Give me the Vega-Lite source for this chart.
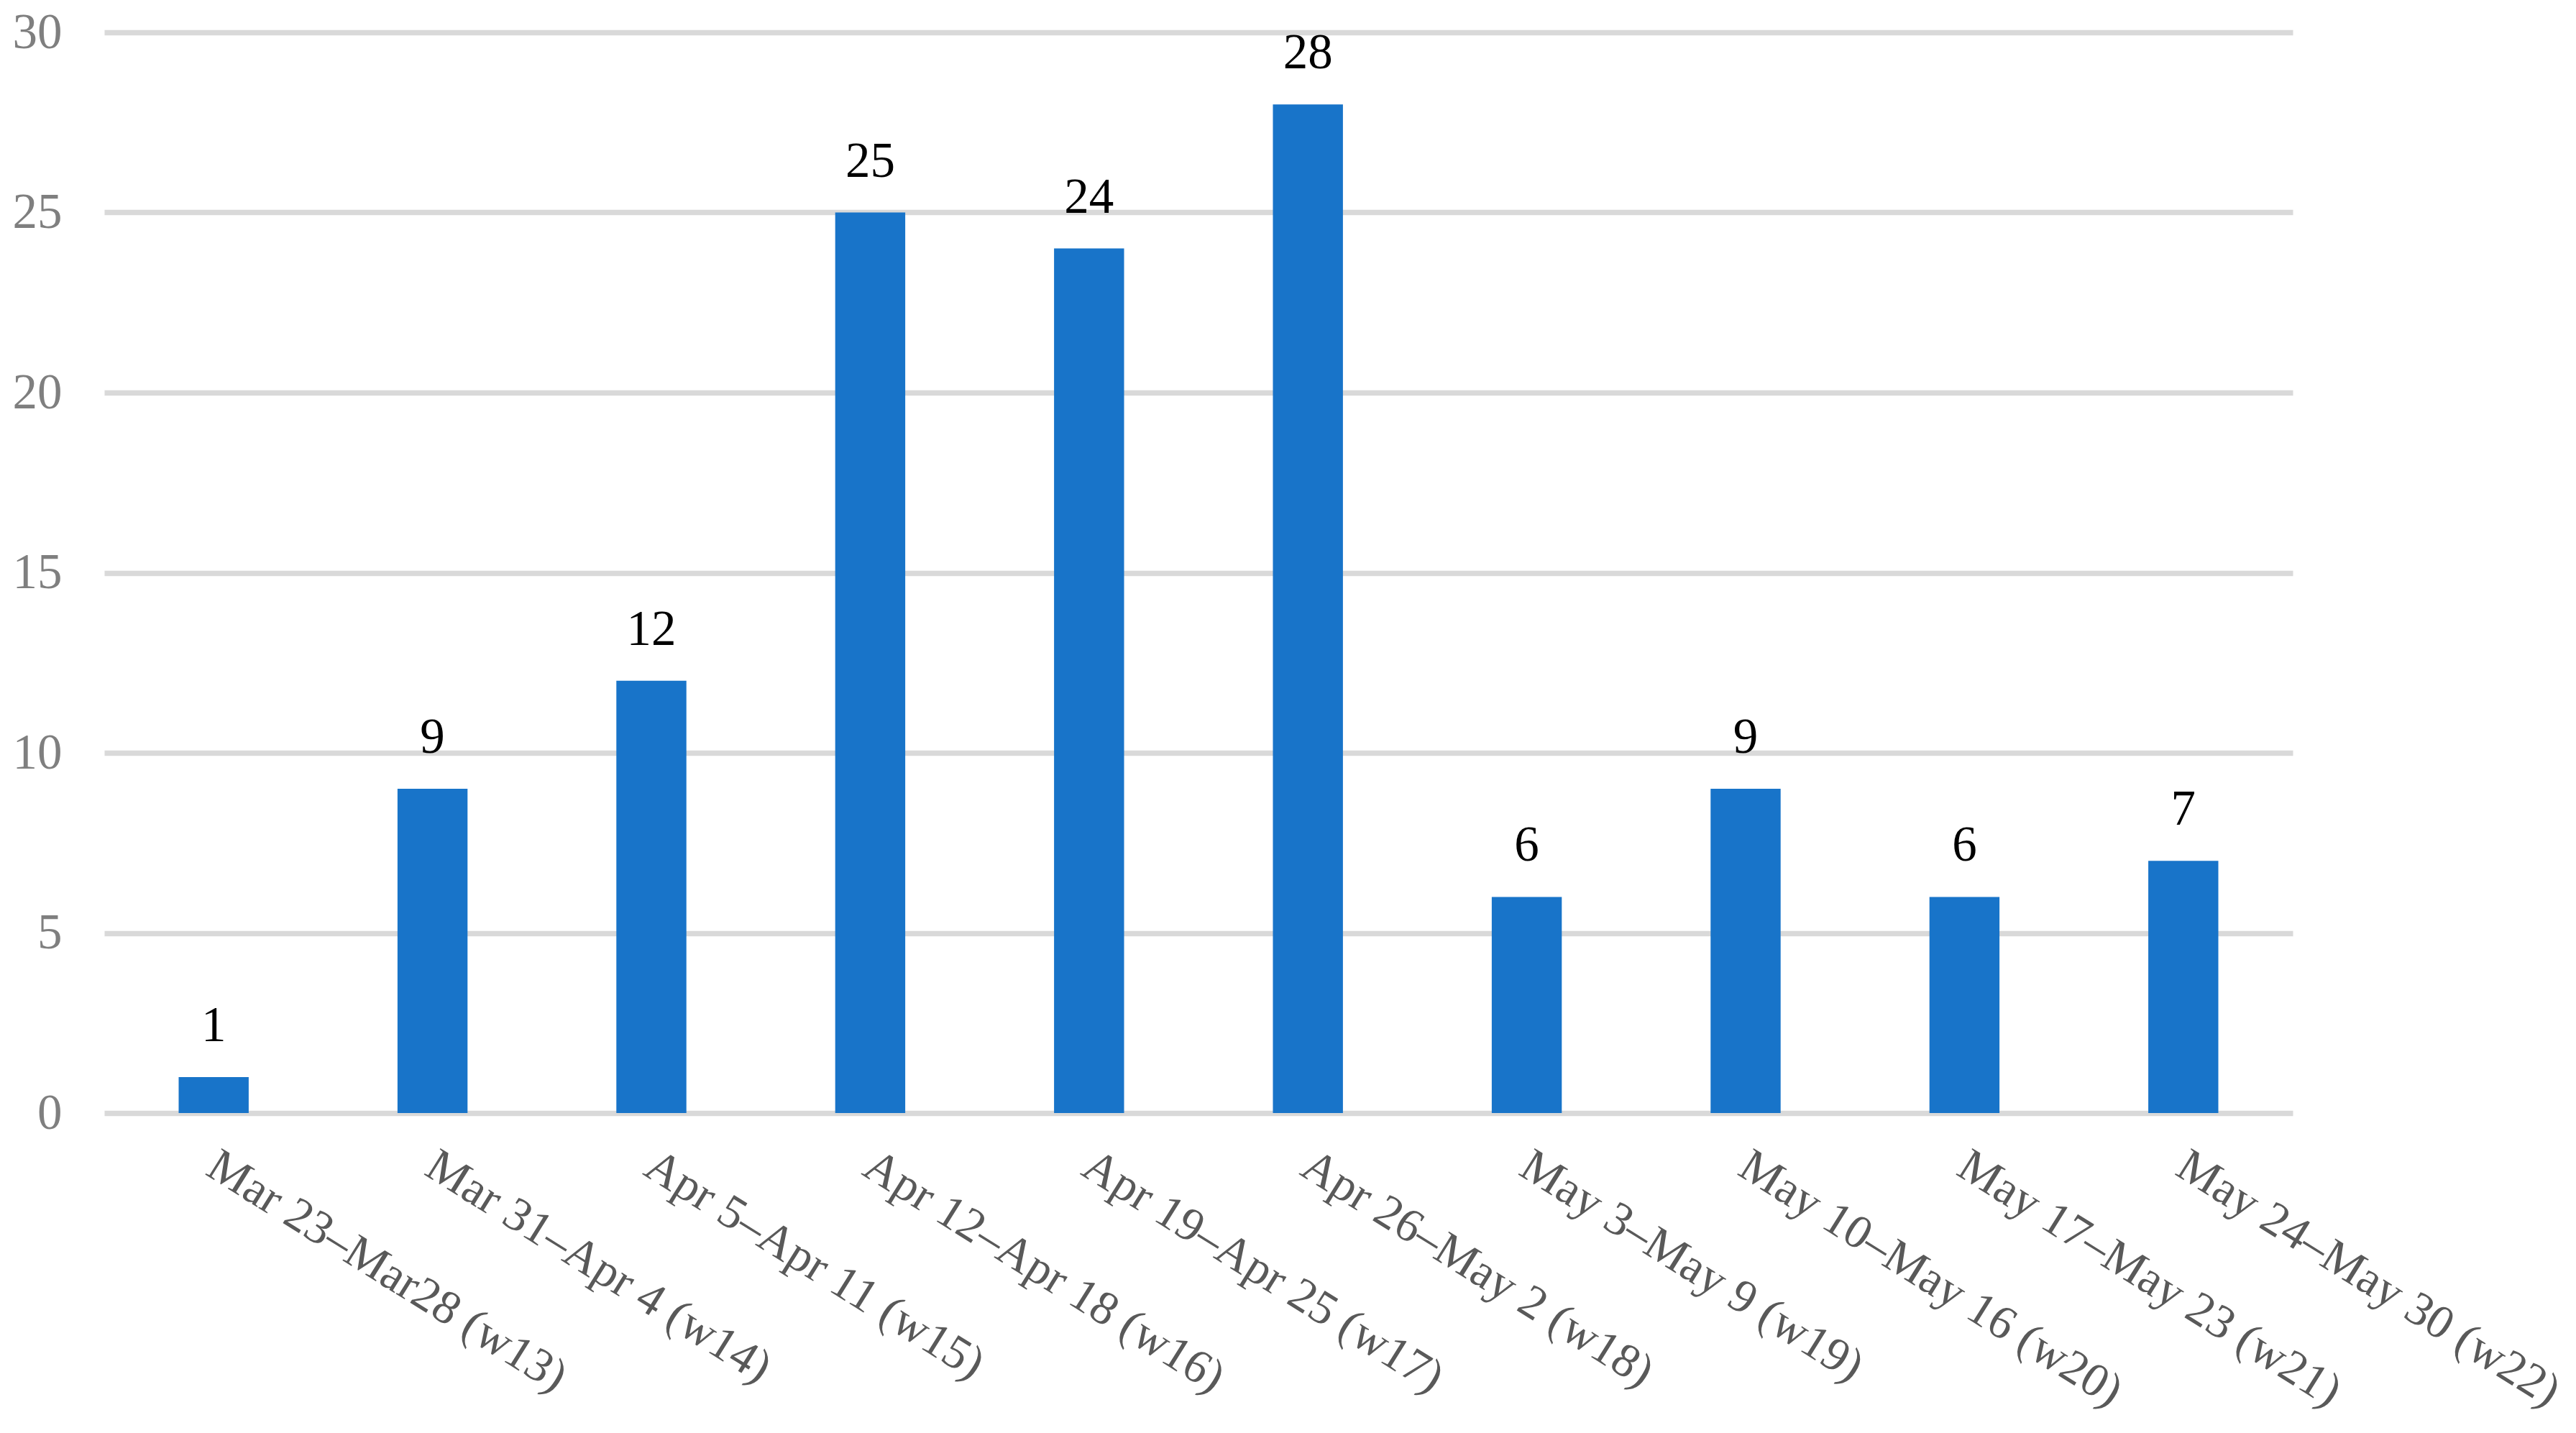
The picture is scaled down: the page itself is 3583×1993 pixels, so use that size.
{
  "$schema": "https://vega.github.io/schema/vega-lite/v6.json",
  "autosize": "none",
  "width": 3044,
  "height": 1503,
  "padding": {"left": 145, "top": 45, "right": 394, "bottom": 445},
  "background": "#ffffff",
  "config": {
    "view": {"stroke": null},
    "font": "Liberation Serif"
  },
  "data": {
    "values": [
      {"week": "Mar 23–Mar28 (w13)", "count": 1},
      {"week": "Mar 31–Apr 4 (w14)", "count": 9},
      {"week": "Apr 5–Apr 11 (w15)", "count": 12},
      {"week": "Apr 12–Apr 18 (w16)", "count": 25},
      {"week": "Apr 19–Apr 25 (w17)", "count": 24},
      {"week": "Apr 26–May 2 (w18)", "count": 28},
      {"week": "May 3–May 9 (w19)", "count": 6},
      {"week": "May 10–May 16 (w20)", "count": 9},
      {"week": "May 17–May 23 (w21)", "count": 6},
      {"week": "May 24–May 30 (w22)", "count": 7}
    ]
  },
  "encoding": {
    "x": {
      "field": "week",
      "type": "nominal",
      "sort": null,
      "scale": {"paddingInner": 0.68, "paddingOuter": 0.34},
      "axis": {
        "title": null,
        "domain": false,
        "ticks": false,
        "labelAngle": 32,
        "labelAlign": "left",
        "labelBaseline": "top",
        "labelPadding": 40,
        "labelOffset": 14,
        "labelFont": "Liberation Serif",
        "labelFontSize": 66,
        "labelColor": "#595959",
        "labelOverlap": false,
        "labelBound": false,
        "labelLimit": 2000
      }
    },
    "y": {
      "field": "count",
      "type": "quantitative",
      "scale": {"domain": [0, 30], "nice": false},
      "axis": {
        "title": null,
        "values": [0, 5, 10, 15, 20, 25, 30],
        "domain": false,
        "ticks": false,
        "grid": true,
        "gridColor": "#d9d9d9",
        "gridWidth": 7.5,
        "labelPadding": 59,
        "labelFont": "Liberation Serif",
        "labelFontSize": 69,
        "labelColor": "#7f7f7f"
      }
    }
  },
  "layer": [
    {"mark": {"type": "bar", "color": "#1874C9"}},
    {
      "mark": {
        "type": "text",
        "dy": -50,
        "baseline": "alphabetic",
        "align": "center",
        "font": "Liberation Serif",
        "fontSize": 69,
        "color": "#000000"
      },
      "encoding": {"text": {"field": "count", "type": "quantitative"}}
    }
  ]
}
